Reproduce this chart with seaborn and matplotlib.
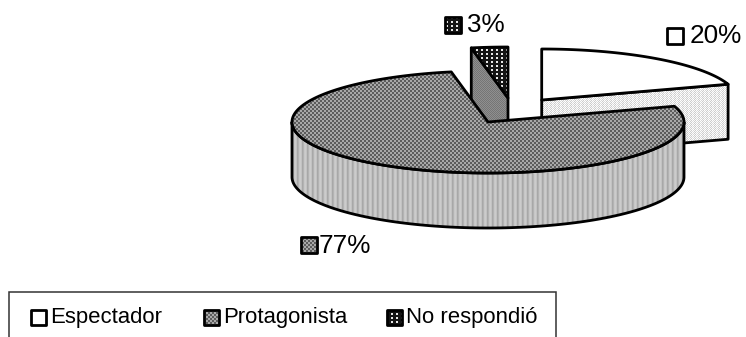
import numpy as np
import matplotlib
matplotlib.use("Agg")
import matplotlib.pyplot as plt
from matplotlib.patches import Polygon, Rectangle
import seaborn as sns

# Survey shares
categories = ["Espectador", "Protagonista", "No respondió"]
shares = [20, 77, 3]
value_labels = ["20%", "77%", "3%"]

sns.set_theme(style="white")
plt.rcParams["font.family"] = ["Liberation Sans", "DejaVu Sans"]

W, H = 746, 337
fig = plt.figure(figsize=(W / 100, H / 100), dpi=100)
ax = fig.add_axes([0, 0, 1, 1])
ax.set_xlim(0, W)
ax.set_ylim(H, 0)
ax.axis("off")

# Projected pie geometry, in pixels
RX, RY, DEPTH = 196, 51, 55
START_DEG = 18.0
CENTERS = [(541.7, 100), (488, 122), (508, 98)]
LW = 2.0

# Greyscale print textures, repeated over each filled region
TOP_MAIN = np.array([[.36, .36, .66, .66], [.36, .36, .66, .66],
                     [.66, .66, .36, .36], [.66, .66, .36, .36]])
SIDE_MAIN = np.array([[.80, .76, .66, .70, .78]])
SIDE_FIRST = np.array([[1.0, .84, .97, .80], [.86, 1.0, .80, .97]])
TOP_SMALL = np.array([[.08, .08, .08, .08, .08],
                      [.08, .90, .90, .08, .08],
                      [.08, .90, .90, .08, .08],
                      [.08, .08, .08, .08, .08]])
CUT_SMALL = np.array([[.46, .56], [.56, .46]])
WHITE = np.array([[1.0]])


def textured(points, tile, zorder, edge=True):
    """Fill a polygon with a repeated texture and outline it."""
    reps = (H // tile.shape[0] + 1, W // tile.shape[1] + 1)
    tex = np.tile(tile, reps)[:H, :W]
    poly = Polygon(points, closed=True, facecolor="none",
                   edgecolor="black" if edge else "none", lw=LW,
                   joinstyle="round", zorder=zorder + 0.1)
    ax.add_patch(poly)
    img = ax.imshow(tex, cmap="gray", vmin=0, vmax=1, extent=(0, W, H, 0),
                    interpolation="nearest", aspect="auto", zorder=zorder)
    img.set_clip_path(poly)


def rim(center, a0, a1):
    """Points on the projected outer edge between two angles in degrees."""
    t = np.radians(np.linspace(a0, a1, 200))
    return np.column_stack([center[0] + RX * np.cos(t),
                            center[1] - RY * np.sin(t)])


def slice_angles():
    """Angular span of each slice; the largest one runs the long way round."""
    spans = 360 * np.array(shares) / sum(shares)
    first = (START_DEG, START_DEG + spans[0])
    third = (first[1], first[1] + spans[2])
    second = (third[1], third[1] + spans[1])
    return first, second, third


ang_first, ang_main, ang_small = slice_angles()
down = np.array([0, DEPTH])

# First slice: back wedge with its cut face in front
c = np.array(CENTERS[0])
arc = rim(c, *ang_first)
textured([c, arc[0], arc[0] + down, c + down], SIDE_FIRST, 1)
textured(np.vstack([c, arc]), WHITE, 2)

# Small slice: cut face, then top surface
c = np.array(CENTERS[2])
arc = rim(c, *ang_small)
textured([c, arc[-1], arc[-1] + down, c + down], CUT_SMALL, 1)
textured(np.vstack([c, arc]), TOP_SMALL, 2)

# Largest slice: outer wall below the rim, then top surface
c = np.array(CENTERS[1])
wall = rim(c, 180, 360)
textured(np.vstack([wall, (wall + down)[::-1]]), SIDE_MAIN, 3)
arc = rim(c, *ang_main)
textured(np.vstack([c, arc]), TOP_MAIN, 4)

# Swatches share the slice textures
swatch_tiles = [WHITE, TOP_MAIN, TOP_SMALL]


def swatch(x, y, size, tile):
    textured([(x, y), (x + size, y), (x + size, y + size), (x, y + size)],
             tile, 6)


# Value labels beside each slice
label_pos = [(690, 36), (319, 246), (467, 25)]
swatch_pos = [(667, 28), (301, 237), (445, 17)]
for text, (tx, ty), (sx, sy), tile in zip(value_labels, label_pos, swatch_pos,
                                          swatch_tiles):
    swatch(sx, sy, 16, tile)
    ax.text(tx, ty, text, fontsize=18.8, color="black", va="center", ha="left",
            zorder=7)

# Legend frame, open at the lower edge of the figure
ax.add_patch(Rectangle((9, 292), 547, 60, facecolor="white", edgecolor="#333333",
                       lw=1.1, zorder=5, clip_on=True))
legend_text_x = [50, 223, 406]
legend_swatch_x = [31, 204, 387]
for name, tx, sx, tile in zip(categories, legend_text_x, legend_swatch_x,
                              swatch_tiles):
    swatch(sx, 310, 15, tile)
    ax.text(tx, 317.5, name, fontsize=15.9, color="black", va="center", ha="left",
            zorder=7)

fig.savefig("out.png", dpi=100)
